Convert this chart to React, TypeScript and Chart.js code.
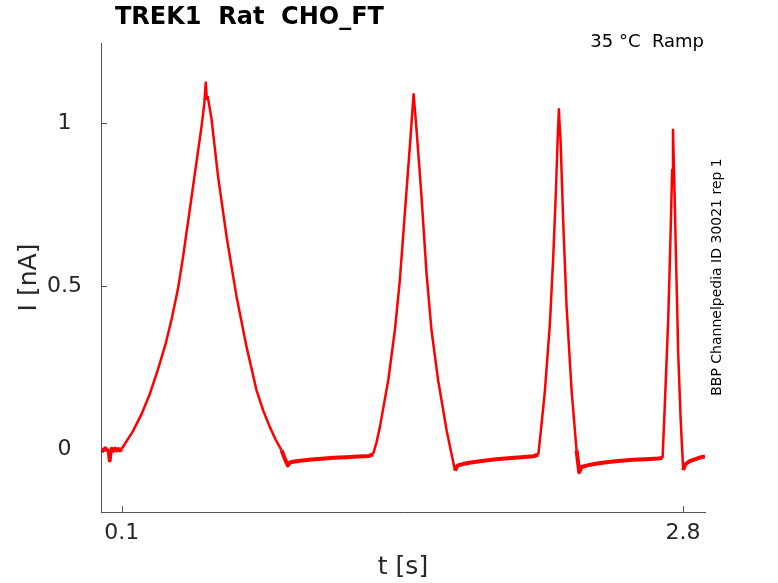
import { useEffect, useRef } from 'react';
import { Chart, registerables } from 'chart.js';
import type { Plugin } from 'chart.js';

Chart.register(...registerables);

// time points of the recorded trace [s]
const timeS = [
    0.000, 0.010, 0.020, 0.030, 0.038, 0.042, 0.046, 0.052, 0.060, 0.068, 0.076, 0.085, 0.092, 0.100,
    0.154, 0.195, 0.235, 0.273, 0.312, 0.341, 0.371, 0.395, 0.427, 0.459, 0.484, 0.497, 0.504, 0.509, 0.514,
    0.532, 0.563, 0.604, 0.652, 0.700, 0.748, 0.780, 0.812, 0.840, 0.869, 0.885, 0.899,
    0.910, 0.930, 0.960, 1.000, 1.060, 1.120, 1.180, 1.240, 1.290, 1.309,
    1.325, 1.342, 1.382, 1.414, 1.438, 1.462, 1.486, 1.504, 1.518, 1.542, 1.566, 1.590, 1.622, 1.663, 1.703,
    1.715, 1.740, 1.780, 1.840, 1.900, 1.960, 2.020, 2.080, 2.104,
    2.120, 2.136, 2.160, 2.176, 2.189, 2.197, 2.203, 2.207, 2.211, 2.224, 2.240, 2.264, 2.288, 2.301,
    2.312, 2.340, 2.380, 2.440, 2.500, 2.560, 2.620, 2.680, 2.702,
    2.713, 2.729, 2.740, 2.748, 2.752, 2.757, 2.766, 2.777, 2.789, 2.801,
    2.812, 2.833, 2.860, 2.881, 2.906,
];

// measured current [nA]
const currentNA = [
    0.000, -0.004, 0.003, -0.002, -0.008, -0.034, -0.010, 0.002, -0.004, 0.002, -0.003, 0.001, -0.003, 0.002,
    0.056, 0.108, 0.170, 0.243, 0.326, 0.403, 0.495, 0.591, 0.734, 0.879, 0.991, 1.060, 1.125, 1.075, 1.080,
    1.012, 0.838, 0.653, 0.469, 0.315, 0.182, 0.120, 0.069, 0.030, -0.003, -0.030, -0.049,
    -0.040, -0.037, -0.035, -0.032, -0.029, -0.026, -0.024, -0.022, -0.020, -0.015,
    0.020, 0.069, 0.212, 0.366, 0.520, 0.725, 0.930, 1.089, 0.982, 0.776, 0.541, 0.366, 0.212, 0.058, -0.065,
    -0.050, -0.045, -0.040, -0.035, -0.030, -0.027, -0.024, -0.021, -0.016,
    0.080, 0.182, 0.387, 0.592, 0.797, 0.951, 1.043, 0.990, 0.951, 0.694, 0.438, 0.182, -0.003, -0.070,
    -0.054, -0.049, -0.044, -0.039, -0.035, -0.032, -0.030, -0.028, -0.026,
    0.142, 0.397, 0.651, 0.857, 0.980, 0.857, 0.603, 0.296, 0.090, -0.063,
    -0.045, -0.036, -0.030, -0.025, -0.022,
];

const xTicks = [0.1, 2.8];
const yTicks = [0, 0.5, 1];

const FONT = "'DejaVu Sans', sans-serif";
const TEXT = '#262626';
const AXIS = '#555555';

// titles, side labels and inward tick marks
const annotations: Plugin<'line'> = {
    id: 'annotations',
    afterDraw(chart) {
        const { ctx, chartArea, scales } = chart;
        ctx.save();

        ctx.strokeStyle = AXIS;
        ctx.lineWidth = 1;
        ctx.beginPath();
        xTicks.forEach((v) => {
            const px = Math.round(scales.x.getPixelForValue(v)) + 0.5;
            ctx.moveTo(px, chartArea.bottom);
            ctx.lineTo(px, chartArea.bottom - 6);
        });
        yTicks.forEach((v) => {
            const py = Math.round(scales.y.getPixelForValue(v)) + 0.5;
            ctx.moveTo(chartArea.left, py);
            ctx.lineTo(chartArea.left + 6, py);
        });
        ctx.stroke();

        ctx.fillStyle = '#000000';
        ctx.font = `bold 24px ${FONT}`;
        ctx.textAlign = 'left';
        ctx.textBaseline = 'middle';
        ctx.fillText('TREK1  Rat  CHO_FT', 115, 18);

        ctx.font = `18px ${FONT}`;
        ctx.textAlign = 'right';
        ctx.textBaseline = 'alphabetic';
        ctx.fillText('35 °C  Ramp', 704, 47);

        ctx.fillStyle = TEXT;
        ctx.font = `25px ${FONT}`;
        ctx.textAlign = 'center';
        ctx.textBaseline = 'middle';
        ctx.fillText('t [s]', (chartArea.left + chartArea.right) / 2, 567);

        ctx.save();
        ctx.translate(29, (chartArea.top + chartArea.bottom) / 2);
        ctx.rotate(-Math.PI / 2);
        ctx.fillText('I [nA]', 0, 0);
        ctx.restore();

        ctx.save();
        ctx.fillStyle = '#000000';
        ctx.font = `14px ${FONT}`;
        ctx.translate(717, 277);
        ctx.rotate(-Math.PI / 2);
        ctx.fillText('BBP Channelpedia ID 30021 rep 1', 0, 0);
        ctx.restore();

        ctx.restore();
    },
};

const RampChart: React.FC = () => {
    const chartRef = useRef<HTMLCanvasElement | null>(null);

    useEffect(() => {
        document.body.style.margin = '0';
        const ctx = chartRef.current?.getContext('2d');
        if (!ctx) return;

        const points = timeS.map((t, i) => ({ x: t, y: currentNA[i] }));

        const chart = new Chart(ctx, {
            type: 'line',
            data: {
                datasets: [
                    {
                        data: points,
                        borderColor: '#ff0000',
                        borderWidth: 2.5,
                        pointRadius: 0,
                        tension: 0,
                        borderJoinStyle: 'round',
                        // the noisy holding stretches read as a thicker band
                        segment: {
                            borderWidth: (c) =>
                                c.p0.parsed.y < 0.01 && c.p1.parsed.y < 0.01 ? 4 : 2.5,
                        },
                    },
                ],
            },
            options: {
                responsive: false,
                animation: false,
                layout: { padding: { top: 43, right: 73, left: 0, bottom: 0 } },
                plugins: {
                    legend: { display: false },
                    tooltip: { enabled: false },
                },
                scales: {
                    x: {
                        type: 'linear',
                        min: 0,
                        max: 2.906,
                        grid: { display: false, drawTicks: false },
                        border: { display: true, color: AXIS, width: 1 },
                        afterBuildTicks: (scale) => {
                            scale.ticks = xTicks.map((v) => ({ value: v }));
                        },
                        afterFit: (scale) => {
                            scale.height = 71;
                        },
                        ticks: {
                            padding: 8,
                            color: TEXT,
                            font: { family: FONT, size: 22 },
                            maxRotation: 0,
                            callback: (v) => String(v),
                        },
                    },
                    y: {
                        type: 'linear',
                        min: -0.192,
                        max: 1.246,
                        grid: { display: false, drawTicks: false },
                        border: { display: true, color: AXIS, width: 1 },
                        afterBuildTicks: (scale) => {
                            scale.ticks = yTicks.map((v) => ({ value: v }));
                        },
                        afterFit: (scale) => {
                            scale.width = 101;
                        },
                        ticks: {
                            padding: 19,
                            crossAlign: 'center',
                            color: TEXT,
                            font: { family: FONT, size: 22 },
                            callback: (v) => String(v),
                        },
                    },
                },
            },
            plugins: [annotations],
        });

        return () => {
            chart.destroy();
        };
    }, []);

    return <canvas ref={chartRef} width={778} height={583} style={{ display: 'block', width: '778px', height: '583px' }}></canvas>;
};

export default function App() {
    return <RampChart />;
}
